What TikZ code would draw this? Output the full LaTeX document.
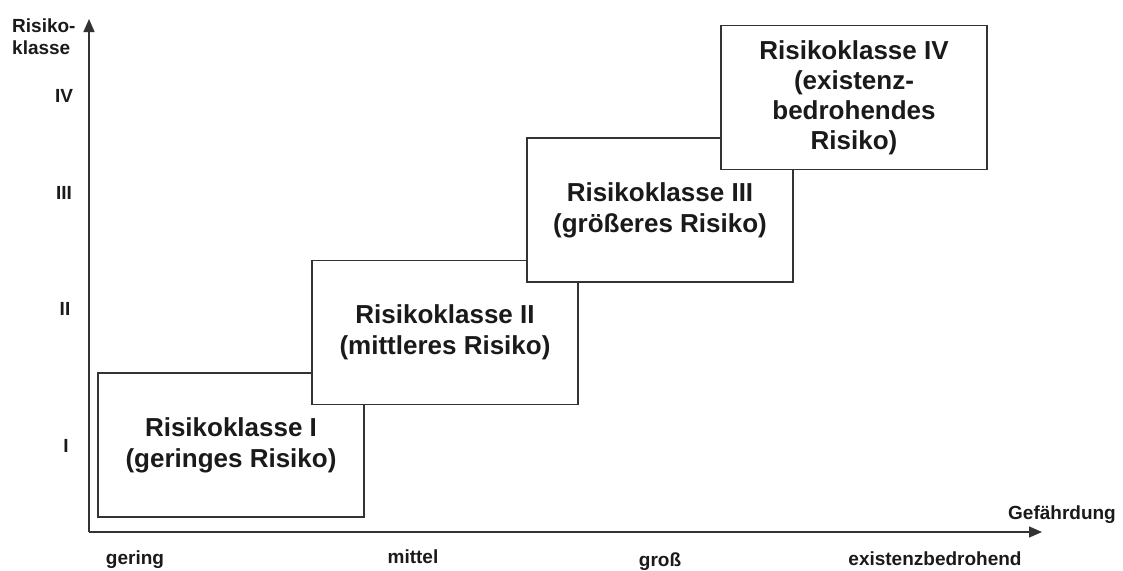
\documentclass[tikz,border=0pt]{standalone}
\usepackage{fontspec}
\setmainfont{Liberation Sans}
\usetikzlibrary{arrows.meta}
\definecolor{ink}{HTML}{1A1A1A}
\definecolor{rule}{HTML}{333333}
\tikzset{
  riskbox/.style={draw=rule, line width=1.4pt, fill=white, inner sep=0pt,
    minimum width=266pt, minimum height=144pt, align=center, text=ink,
    font=\bfseries\fontsize{26}{31}\selectfont},
  axislabel/.style={anchor=base, inner sep=0pt, text=ink,
    font=\bfseries\fontsize{19}{22}\selectfont},
  axisline/.style={draw=rule, line width=1.4pt,
    -{Triangle[length=13pt,width=11pt]}}
}
\begin{document}
\begin{tikzpicture}[x=1pt,y=-1pt]
  \useasboundingbox (0,0) rectangle (1123,570);

  % axes
  \coordinate (origin) at (89,532);
  \coordinate (ytip) at (89,19);
  \coordinate (xtip) at (1042,532);
  \draw[axisline] (origin) -- (ytip);
  \draw[axisline] (origin) -- (xtip);

  % vertical axis labels
  \node[axislabel, anchor=base west] (ytitle1) at (12,32) {Risiko-};
  \node[axislabel, anchor=base west] (ytitle2) at (12,54) {klasse};
  \node[axislabel] (c4) at (64,102) {IV};
  \node[axislabel] (c3) at (64,199) {III};
  \node[axislabel] (c2) at (65,315) {II};
  \node[axislabel] (c1) at (66,452) {I};

  % horizontal axis labels
  \node[axislabel] (xtitle) at (1062,519) {Gefährdung};
  \node[axislabel] (g1) at (135,564) {gering};
  \node[axislabel] (g2) at (413,563) {mittel};
  \node[axislabel] (g3) at (660,566) {groß};
  \node[axislabel] (g4) at (935,565) {existenzbedrohend};

  % risk class boxes, each one laid over the previous
  \node[riskbox] (k1) at (231,445) {Risikoklasse I\\(geringes Risiko)};
  \node[riskbox] (k2) at (445,332.5) {Risikoklasse II\\(mittleres Risiko)};
  \node[riskbox] (k3) at (660,210) {Risikoklasse III\\(größeres Risiko)};
  \node[riskbox, font=\bfseries\fontsize{26}{30}\selectfont] (k4) at (854,97.5)
    {Risikoklasse IV\\(existenz-\\bedrohendes\\Risiko)};
\end{tikzpicture}
\end{document}
